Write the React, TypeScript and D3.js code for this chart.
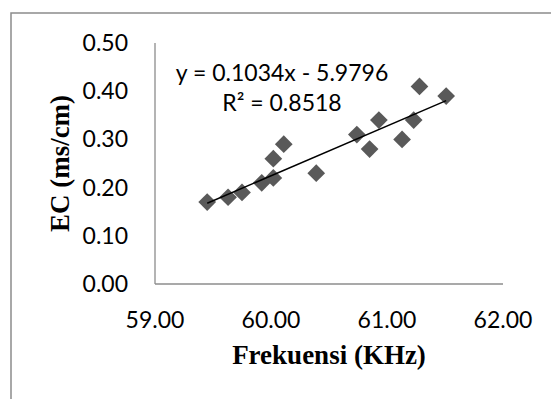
import React, { useEffect, useRef } from 'react'
import * as d3 from 'd3'

const frekuensi = [59.45, 59.63, 59.75, 59.92, 60.02, 60.02, 60.11, 60.39, 60.74, 60.85, 60.93, 61.13, 61.23, 61.28, 61.51]
const ec = [0.17, 0.18, 0.19, 0.21, 0.22, 0.26, 0.29, 0.23, 0.31, 0.28, 0.34, 0.30, 0.34, 0.41, 0.39]
const xTicks = [59, 60, 61, 62]
const yTicks = [0, 0.1, 0.2, 0.3, 0.4, 0.5]
const equationText = 'y = 0.1034x - 5.9796'
const slope = 0.1034
const intercept = -5.9796

function App() {
  const svgRef = useRef<SVGSVGElement>(null)

  useEffect(() => {
    const width = 551
    const height = 399
    const svg = d3.select(svgRef.current)
    svg.selectAll('*').remove()
    svg.attr('width', width).attr('height', height)

    // outer chart frame (cut off at right and bottom)
    svg.append('rect')
      .attr('x', 11).attr('y', 13)
      .attr('width', 600).attr('height', 450)
      .attr('fill', '#fff')
      .attr('stroke', '#8c8c8c')
      .attr('stroke-width', 1.5)

    const xScale = d3.scaleLinear().domain([59, 62]).range([155, 503])
    const yScale = d3.scaleLinear().domain([0, 0.5]).range([284, 43])

    const font = 'Lato, "Open Sans", sans-serif'

    // axes
    const g = svg.append('g')
    g.append('line')
      .attr('x1', xScale(59)).attr('x2', xScale(59))
      .attr('y1', yScale(0.5)).attr('y2', yScale(0))
      .attr('stroke', '#8c8c8c').attr('stroke-width', 1.3)
    g.append('line')
      .attr('x1', xScale(59)).attr('x2', xScale(62))
      .attr('y1', yScale(0)).attr('y2', yScale(0))
      .attr('stroke', '#8c8c8c').attr('stroke-width', 1.3)

    g.selectAll('.ytick')
      .data(yTicks)
      .enter().append('text')
      .attr('x', 128)
      .attr('y', d => yScale(d) + 8)
      .attr('text-anchor', 'end')
      .style('font-family', font)
      .style('font-size', '23px')
      .attr('fill', '#000')
      .text(d => d.toFixed(2))

    g.selectAll('.xtick')
      .data(xTicks)
      .enter().append('text')
      .attr('x', d => xScale(d))
      .attr('y', 328)
      .attr('text-anchor', 'middle')
      .style('font-family', font)
      .style('font-size', '23px')
      .attr('fill', '#000')
      .text(d => d.toFixed(2))

    // axis titles
    svg.append('text')
      .attr('x', 329).attr('y', 364)
      .attr('text-anchor', 'middle')
      .style('font-family', '"Liberation Serif", serif')
      .style('font-weight', 'bold')
      .style('font-size', '27px')
      .text('Frekuensi (KHz)')

    svg.append('text')
      .attr('transform', `translate(69,163.5) rotate(-90)`)
      .attr('text-anchor', 'middle')
      .style('font-family', '"Liberation Serif", serif')
      .style('font-weight', 'bold')
      .style('font-size', '27px')
      .text('EC (ms/cm)')

    // markers
    const pts = frekuensi.map((f, i) => [f, ec[i]])
    const diamond = d3.symbol().type(d3.symbolDiamond2).size(200)
    svg.selectAll('.pt')
      .data(pts)
      .enter().append('path')
      .attr('d', diamond)
      .attr('transform', d => `translate(${xScale(d[0])},${yScale(d[1])}) rotate(0)`)
      .attr('fill', '#595959')

    // linear trendline
    const xMin = d3.min(frekuensi) as number
    const xMax = d3.max(frekuensi) as number
    svg.append('line')
      .attr('x1', xScale(xMin)).attr('y1', yScale(slope * xMin + intercept))
      .attr('x2', xScale(xMax)).attr('y2', yScale(slope * xMax + intercept))
      .attr('stroke', '#000')
      .attr('stroke-width', 1.5)

    // equation label
    const lbl = svg.append('text')
      .attr('text-anchor', 'middle')
      .style('font-family', font)
      .style('font-size', '23px')
      .attr('fill', '#000')
    lbl.append('tspan').attr('x', 282).attr('y', 81).text(equationText)
    lbl.append('tspan').attr('x', 282).attr('y', 111).text('R² = 0.8518')
  }, [])

  return <svg ref={svgRef} style={{ position: 'absolute', left: 0, top: 0 }}></svg>
}

export default App
